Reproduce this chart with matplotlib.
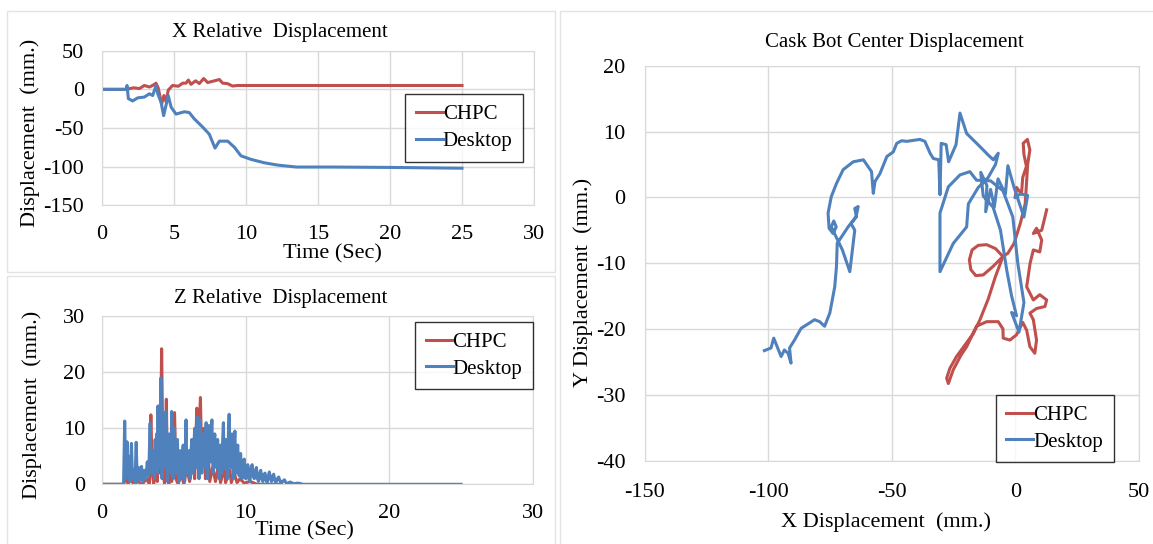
import matplotlib.pyplot as plt
from matplotlib.patches import Rectangle

plt.rcParams['font.family'] = ['Liberation Serif', 'DejaVu Serif']
plt.rcParams['axes.unicode_minus'] = False

RED = '#C0504D'
BLUE = '#4F81BD'
GRID = '#D9D9D9'

# X relative displacement vs time
x_chpc_t = [0, 1.67, 2.2, 2.6, 2.94, 3.3, 3.6, 3.75, 3.9, 4.14, 4.3, 4.45, 4.6, 4.9, 5.3, 5.6, 5.83,
            6.0, 6.18, 6.5, 6.76, 7.06, 7.34, 7.8, 8.15, 8.38, 8.7, 9.07, 9.4, 12, 16, 20, 25]
x_chpc_v = [0, 0, 2, 1, 5, 3, 6, 8, 2, -19, -8, -16, -1, 5, 4, 8, 8,
            12, 6.5, 11, 7.5, 14, 8.8, 11, 12.7, 8, 7.5, 4.3, 5, 5, 5, 5, 5]
x_desk_t = [0, 1.67, 1.74, 1.83, 2.13, 2.48, 2.94, 3.29, 3.52, 3.75, 3.87, 4.1, 4.28, 4.44, 4.6, 4.8,
            5.14, 5.72, 6.06, 6.4, 7.0, 7.45, 7.85, 8.15, 8.73, 9.2, 9.65, 10.35, 11.27, 12.2, 13.5,
            16, 20, 25]
x_desk_v = [0, 0, 5, -12, -15, -11, -10, -5.7, -8, 5, -5.7, -16.5, -34, -21, -8, -23,
            -32, -29, -30, -38, -49, -58, -76, -67, -67, -75, -86, -90.6, -95, -98, -100.5,
            -100.5, -101, -102]

# Z relative displacement vs time (t, mm)
z_chpc = [(0, 0), (1.5, 0), (1.7, 1.5), (1.8, 0), (2.0, 1), (2.2, 0), (2.5, 0.5), (2.8, 0), (3.1, 1),
          (3.3, 0), (3.4, 12.4), (3.5, 2), (3.6, 0), (3.7, 3), (3.85, 0.5), (3.95, 10), (4.05, 2),
          (4.15, 24.2), (4.25, 3), (4.35, 0), (4.48, 15.2), (4.55, 2), (4.65, 0), (4.75, 5), (4.85, 0.5),
          (5.05, 12.8), (5.15, 1), (5.3, 0), (5.5, 2), (5.7, 0), (5.9, 3), (6.1, 0.5), (6.3, 5), (6.45, 1),
          (6.6, 13.6), (6.7, 5), (6.85, 15.5), (6.95, 3), (7.1, 10), (7.2, 1), (7.4, 5), (7.5, 0.5),
          (7.7, 3), (7.9, 0.5), (8.1, 3.5), (8.25, 0.3), (8.5, 3), (8.6, 0.3), (8.9, 2.5), (9.0, 0.3),
          (9.2, 2), (9.4, 0.3), (9.6, 1), (9.9, 0.2), (10.3, 0.5), (10.8, 0), (12.3, 0)]
z_desktop = [(0, 0), (1.5, 0), (1.58, 11.3), (1.65, 1), (1.74, 7.6), (1.8, 2), (1.88, 5), (1.95, 0.5),
             (2.05, 7.3), (2.12, 1), (2.2, 2.6), (2.3, 0.3), (2.38, 7.5), (2.45, 0.5), (2.55, 3), (2.65, 0.8),
             (2.75, 3.2), (2.85, 0.5), (2.95, 2.5), (3.05, 1), (3.15, 4), (3.25, 1.5), (3.35, 10.9), (3.42, 2),
             (3.5, 5), (3.55, 2), (3.6, 6), (3.65, 1), (3.7, 8), (3.75, 3), (3.8, 9), (3.85, 2), (3.9, 14),
             (3.95, 4), (4.0, 12), (4.05, 3), (4.1, 19), (4.15, 6), (4.18, 1), (4.22, 9), (4.25, 12),
             (4.3, 3), (4.35, 8), (4.4, 4), (4.45, 13), (4.5, 5), (4.55, 0.5), (4.6, 7), (4.65, 9),
             (4.7, 3), (4.75, 6), (4.8, 2), (4.85, 13), (4.9, 4), (4.95, 1), (5.0, 8), (5.05, 10),
             (5.1, 2), (5.15, 3), (5.2, 7), (5.25, 8), (5.3, 2), (5.35, 0.5), (5.4, 5), (5.45, 6),
             (5.5, 1), (5.55, 3), (5.6, 5), (5.65, 7), (5.7, 2), (5.75, 0.5), (5.8, 6), (5.85, 11.5),
             (5.9, 3), (5.95, 2), (6.0, 5), (6.05, 6), (6.1, 1.5), (6.15, 1), (6.2, 6), (6.25, 8),
             (6.3, 2), (6.35, 2), (6.4, 7), (6.45, 10), (6.5, 4), (6.55, 3), (6.6, 9), (6.65, 12),
             (6.7, 4), (6.75, 1), (6.8, 8), (6.85, 11.5), (6.9, 4), (6.95, 2), (7.0, 7), (7.05, 9),
             (7.1, 4), (7.15, 3), (7.2, 8), (7.25, 11), (7.3, 3), (7.35, 1), (7.4, 7), (7.45, 10.5),
             (7.5, 5), (7.55, 4), (7.6, 9), (7.65, 11.5), (7.7, 4), (7.75, 2), (7.8, 7), (7.85, 9),
             (7.9, 4), (7.95, 3), (8.0, 6), (8.05, 8), (8.1, 3), (8.15, 1), (8.2, 5), (8.25, 7),
             (8.3, 3), (8.35, 2), (8.4, 8), (8.45, 11), (8.5, 4), (8.55, 3), (8.6, 6), (8.65, 8),
             (8.7, 3), (8.75, 1), (8.8, 9), (8.85, 12.5), (8.9, 5), (8.95, 3), (9.0, 7), (9.05, 9),
             (9.1, 3), (9.15, 1), (9.2, 7), (9.25, 9.5), (9.3, 4), (9.35, 2), (9.4, 6), (9.45, 7),
             (9.5, 3), (9.55, 1.5), (9.6, 4), (9.65, 5.5), (9.7, 2), (9.75, 1), (9.8, 4), (9.9, 4.5),
             (9.95, 2), (10.0, 1), (10.08, 3), (10.15, 3.5), (10.22, 1), (10.3, 0.5), (10.38, 3),
             (10.45, 3.5), (10.52, 1.5), (10.6, 1), (10.68, 2.5), (10.75, 3), (10.82, 1), (10.9, 0.5),
             (10.98, 2), (11.05, 2.5), (11.12, 1), (11.2, 0.5), (11.28, 1.8), (11.35, 2), (11.42, 0.8),
             (11.5, 0.3), (11.58, 1.5), (11.65, 2.2), (11.72, 1), (11.8, 0.5), (11.88, 1.5), (11.95, 1.8),
             (12.02, 0.8), (12.1, 0.3), (12.2, 1.0), (12.3, 1.3), (12.4, 0.5), (12.5, 0.2), (12.6, 0.6),
             (12.7, 0.8), (12.8, 0.3), (12.9, 0.1), (13.0, 0.3), (13.1, 0.4), (13.25, 0.2), (13.4, 0.1),
             (13.55, 0.2), (13.7, 0.2), (14.0, 0), (25, 0)]

# cask bottom centre path (x mm, y mm)
xy_chpc = [(0, 0), (0.5, 1.5), (2.5, 0.5), (3, 3), (4.5, 4.7), (3.5, 6.5), (3.2, 8.2), (4.9, 8.8),
           (5.9, 7.2), (5, 5), (4.6, 2.5), (4, -1), (2, -4), (-0.5, -7), (-3, -8.5), (-5, -9),
           (-8, -7.8), (-11.6, -7.2), (-15, -7.3), (-17.5, -8), (-18.6, -9.5), (-18, -11), (-16, -11.9),
           (-13, -11.8), (-9, -10.5), (-5, -9), (-8, -12), (-11, -15.5), (-14.3, -18.6), (-17, -20.7),
           (-20.5, -22.5), (-23.8, -24.2), (-26.5, -26), (-27.8, -27.5), (-27.1, -28.3), (-25.1, -26.2),
           (-22, -24), (-19.7, -22.7), (-15.7, -19.6), (-11.6, -18.9), (-6.9, -18.9), (-5, -20),
           (-4.9, -21.4), (-2.2, -21.7), (0.5, -20.9), (3, -19), (4.6, -20.2), (5.9, -22.7),
           (7.9, -23.7), (8.6, -21.7), (7.3, -18.6), (5.9, -17.6), (8.6, -16.9), (12, -16.6),
           (12.7, -15.6), (9.9, -14.8), (7.3, -15.6), (4.6, -13.6), (6, -10), (7.3, -8), (9.9, -8.3),
           (10.7, -6.5), (8.6, -4.7), (7.3, -5.5), (10.7, -5), (12.7, -1.9)]
xy_desktop = [(0, 0), (2, 0.5), (5, 0.3), (3.5, -3), (-0.5, 1.5), (-3, 4.8), (-4, 0.5), (-7, 2.8),
              (-8.5, -1.5), (-10, 1.2), (-12, -2.2), (-11.5, 1.8), (-14, 3.8), (-13, 0.2), (-9, -1.5),
              (-6, -5), (-3.5, -11), (-1.5, -15), (0.5, -18), (-1.5, -17.5), (1.5, -20.5), (3.5, -16),
              (1, -10), (-1, -3), (-5, 1), (-10, 2.5), (-15.7, 2.6), (-18.4, 3.9), (-22.4, 3.4),
              (-27.1, 1.6), (-30.5, -2.4), (-30.5, -11.3), (-25.1, -7), (-19.7, -4.5), (-19, -1),
              (-15, 1.5), (-11, 3), (-8, 5), (-6.9, 6.7), (-8.9, 5.7), (-10.9, 6.4), (-14.3, 7.7),
              (-19.7, 9.7), (-22.4, 12.8), (-24, 8), (-27, 5.4), (-28, 8), (-30, 8.2), (-30.5, 0.4),
              (-31, 5.7), (-33.2, 5.9), (-34.5, 6.7), (-36.6, 8.5), (-38.6, 8.8), (-44, 8.5), (-46, 8.6),
              (-48, 8.2), (-49.4, 6.9), (-52, 6.2), (-54.8, 3.6), (-56.8, 2.4), (-57.5, 0.6), (-58.2, 3.9),
              (-61.5, 5.7), (-65.6, 5.4), (-69.7, 4.2), (-72.4, 2.1), (-74.5, 0.1), (-75.8, -2.4),
              (-75.4, -4.7), (-73.8, -5.5), (-72.5, -4.5), (-73.5, -3.6), (-74.5, -4.5), (-70, -8),
              (-67, -11.3), (-65, -5), (-66.5, -4), (-64.3, -2.9), (-65, -1.7), (-63.6, -1.4), (-64.5, -3),
              (-67.7, -4.5), (-72.1, -7), (-72.4, -10.5), (-73.1, -13.6), (-75.1, -17.6), (-77.2, -19.6),
              (-79.2, -18.9), (-81.3, -18.6), (-83.3, -19.1), (-86.7, -19.9), (-89.4, -21.7), (-91.4, -22.9),
              (-90.8, -25.2), (-92, -23.7), (-93.5, -23.2), (-94.8, -24.2), (-96.2, -22.9), (-97.8, -21.4),
              (-98.9, -22.9), (-101.6, -23.3)]

W, H = 1153, 544
fig = plt.figure(figsize=(W / 100, H / 100), dpi=100)


def px_axes(x0, y0, x1, y1):
    return fig.add_axes([x0 / W, 1 - y1 / H, (x1 - x0) / W, (y1 - y0) / H])


def style(ax):
    ax.grid(True, color=GRID, linewidth=1)
    ax.set_axisbelow(True)
    for s in ax.spines.values():
        s.set_color(GRID)
    ax.tick_params(length=0, labelsize=16)


def legend(ax, xy):
    lg = ax.legend(loc='center', bbox_to_anchor=xy, fontsize=15, frameon=True, fancybox=False,
                   handlelength=1.3, handletextpad=0.0, borderpad=0.5, labelspacing=0.35,
                   borderaxespad=0)
    lg.get_frame().set_edgecolor('black')
    lg.get_frame().set_linewidth(1)


# panel frames
for r in [(7, 11, 555, 272), (7, 276, 555, 548), (560, 11, 1158, 548)]:
    fig.add_artist(Rectangle((r[0] / W, 1 - r[3] / H), (r[2] - r[0]) / W, (r[3] - r[1]) / H,
                             transform=fig.transFigure, fill=False, ec='#E3E3E3', lw=1))

LW = 2.2

# X relative
ax1 = px_axes(102, 50.7, 534, 205.3)
style(ax1)
ax1.plot(x_chpc_t, x_chpc_v, color=RED, lw=LW, label='CHPC')
ax1.plot(x_desk_t, x_desk_v, color=BLUE, lw=LW, label='Desktop')
ax1.set_xlim(0, 30)
ax1.set_ylim(-150, 50)
ax1.set_xticks(range(0, 31, 5))
ax1.set_yticks(range(-150, 51, 50))
ax1.tick_params(axis='x', pad=14)
ax1.tick_params(axis='y', pad=13)
legend(ax1, (0.838, 0.5))
fig.text(280 / W, 1 - 33 / H, 'X Relative  Displacement', ha='center', va='center', fontsize=15)
fig.text(332 / W, 1 - 254 / H, 'Time (Sec)', ha='center', va='center', fontsize=16)
fig.text(30 / W, 1 - 133 / H, 'Displacement  (mm.)', ha='center', va='center', rotation=90, fontsize=16)

# Z relative
ax2 = px_axes(102, 316.3, 533, 484.3)
style(ax2)
ax2.plot([p[0] for p in z_chpc], [p[1] for p in z_chpc], color=RED, lw=LW, label='CHPC')
ax2.plot([p[0] for p in z_desktop], [p[1] for p in z_desktop], color=BLUE, lw=LW, label='Desktop')
ax2.set_xlim(0, 30)
ax2.set_ylim(0, 30)
ax2.set_xticks(range(0, 31, 10))
ax2.set_yticks(range(0, 31, 10))
ax2.tick_params(axis='x', pad=14)
ax2.tick_params(axis='y', pad=12)
legend(ax2, (0.863, 0.767))
fig.text(281 / W, 1 - 298 / H, 'Z Relative  Displacement', ha='center', va='center', fontsize=15)
fig.text(304 / W, 1 - 531 / H, 'Time (Sec)', ha='center', va='center', fontsize=16)
fig.text(32 / W, 1 - 405 / H, 'Displacement  (mm.)', ha='center', va='center', rotation=90, fontsize=16)

# XY path
ax3 = px_axes(644.8, 65.7, 1138.8, 460.5)
style(ax3)
ax3.plot([p[0] for p in xy_chpc], [p[1] for p in xy_chpc], color=RED, lw=LW, label='CHPC')
ax3.plot([p[0] for p in xy_desktop], [p[1] for p in xy_desktop], color=BLUE, lw=LW, label='Desktop')
ax3.set_xlim(-150, 50)
ax3.set_ylim(-40, 20)
ax3.set_xticks(range(-150, 51, 50))
ax3.set_yticks(range(-40, 21, 10))
ax3.tick_params(axis='y', pad=14)
ax3.tick_params(axis='x', pad=16)
legend(ax3, (0.83, 0.081))
fig.text(894 / W, 1 - 42 / H, 'Cask Bot Center Displacement', ha='center', va='center', fontsize=15)
fig.text(886 / W, 1 - 522 / H, 'X Displacement  (mm.)', ha='center', va='center', fontsize=16)
fig.text(583 / W, 1 - 282 / H, 'Y Displacement  (mm.)', ha='center', va='center', rotation=90, fontsize=16)

fig.savefig('out.png', dpi=100)
